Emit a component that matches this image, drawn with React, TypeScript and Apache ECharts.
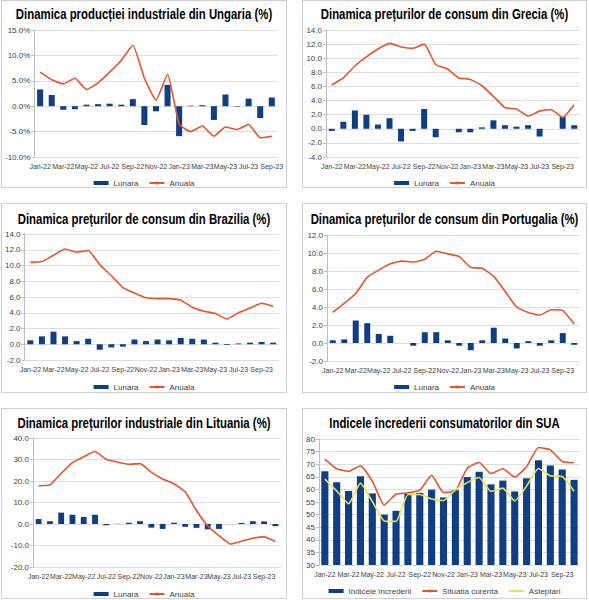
import { useEffect, useRef } from 'react';
import * as echarts from 'echarts';

const MONTHS = [
  'Jan-22', 'Feb-22', 'Mar-22', 'Apr-22', 'May-22', 'Jun-22', 'Jul-22', 'Aug-22', 'Sep-22', 'Oct-22', 'Nov-22', 'Dec-22',
  'Jan-23', 'Feb-23', 'Mar-23', 'Apr-23', 'May-23', 'Jun-23', 'Jul-23', 'Aug-23', 'Sep-23', 'Oct-23',
];
// Hungary stops at Sep-23
const MONTHS_HU = MONTHS.slice(0, 21);

const huMonthly = [3.3, 2.2, -0.7, -0.6, 0.3, 0.4, 0.5, 0.3, 1.4, -3.7, -1.0, 4.2, -5.9, 0.1, 0.2, -2.7, 2.3, -0.1, 1.5, -2.3, 1.7];
const huAnnual = [6.7, 5.2, 4.4, 5.5, 3.3, 4.6, 6.7, 9.0, 12.0, 5.5, 1.2, 6.3, -3.5, -5.0, -3.9, -5.9, -4.1, -4.6, -3.6, -6.2, -5.9];

const grMonthly = [-0.3, 1.0, 2.6, 2.0, 0.6, 1.5, -1.8, -0.3, 2.8, -1.2, 0, -0.5, -0.5, 0.2, 1.2, 0.5, 0.3, 0.5, -1.1, 0, 1.7, 0.5];
const grAnnual = [6.2, 7.2, 8.9, 10.2, 11.3, 12.1, 11.6, 11.4, 12.0, 9.1, 8.5, 7.2, 7.0, 6.1, 4.6, 3.0, 2.8, 1.8, 2.5, 2.7, 1.6, 3.4];

const brMonthly = [0.5, 1.0, 1.6, 1.0, 0.4, 0.7, -0.7, -0.4, -0.3, 0.6, 0.4, 0.6, 0.5, 0.8, 0.7, 0.6, 0.2, -0.1, 0.1, 0.2, 0.3, 0.2];
const brAnnual = [10.4, 10.5, 11.3, 12.1, 11.7, 11.9, 10.1, 8.7, 7.2, 6.5, 5.9, 5.8, 5.8, 5.6, 4.7, 4.2, 3.9, 3.2, 4.0, 4.6, 5.2, 4.8];

const ptMonthly = [0.3, 0.4, 2.5, 2.2, 1.0, 0.8, 0, -0.3, 1.2, 1.2, 0.3, -0.3, -0.8, 0.3, 1.7, 0.5, -0.6, 0.2, -0.3, 0.3, 1.1, -0.2];
const ptAnnual = [3.4, 4.4, 5.5, 7.3, 8.1, 8.8, 9.1, 9.0, 9.3, 10.2, 9.9, 9.6, 8.4, 8.3, 7.4, 5.7, 4.0, 3.4, 3.1, 3.7, 3.6, 2.1];

const ltMonthly = [2.3, 1.3, 5.3, 4.3, 3.3, 4.3, -0.6, 0.1, 0.6, 1.3, -1.7, -2.3, 0.6, -1.3, -1.8, -2.5, -2.3, 0, 0.5, 1.3, 1.2, -1.0];
const ltAnnual = [17.8, 18.2, 23.5, 28.5, 31.3, 33.7, 30.1, 28.8, 27.8, 28.1, 24.0, 20.9, 18.7, 15.0, 6.3, -0.9, -5.4, -9.3, -8.0, -6.6, -6.0, -8.2];

const usSentiment = [67.2, 62.8, 59.4, 65.2, 58.4, 50.0, 51.5, 58.2, 58.6, 59.9, 56.8, 59.7, 64.9, 67.0, 62.0, 63.5, 59.2, 64.4, 71.6, 69.5, 67.9, 63.8];
const usCurrent = [72.0, 68.2, 67.2, 69.4, 63.3, 53.8, 58.1, 58.6, 59.7, 65.6, 58.8, 59.4, 68.4, 70.7, 66.3, 68.2, 64.9, 69.0, 76.6, 75.7, 71.1, 70.6];
const usExpect = [64.1, 59.4, 54.3, 62.5, 55.2, 47.5, 47.3, 58.0, 58.0, 56.2, 55.6, 59.9, 62.7, 64.7, 59.2, 60.5, 55.4, 61.3, 68.3, 65.4, 65.1, 59.3];

const BLUE = '#0f3f82';
const RED = '#e0572e';
const YELLOW = '#e6e25a';
const GRID = '#dedede';
const TXT = '#404040';
const FONT = 'Liberation Sans';

interface Box { left: number; top: number; width: number; height: number }

interface Cfg {
  title: string;
  titleY: number;
  legendTop: number;
  grid: { left: number; right: number; top: number; bottom: number };
  categories: string[];
  min: number;
  max: number;
  interval: number;
  fmt: (v: number) => string;
  barWidth: string;
  lines: { name: string; data: number[]; color: string }[];
  bar: { name: string; data: number[] };
}

function buildOption(c: Cfg, width: number) {
  const n = c.categories.length;
  return {
    animation: false,
    // condensed heavy title: bold sans squeezed horizontally
    graphic: [
      {
        type: 'text',
        x: width / 2,
        y: c.titleY,
        scaleX: 0.76,
        style: {
          text: c.title,
          font: 'bold 15px "Liberation Sans"',
          fill: '#000',
          align: 'center',
          verticalAlign: 'top',
          textAlign: 'center',
          textVerticalAlign: 'top',
        },
      },
    ],
    grid: c.grid,
    legend: {
      top: c.legendTop,
      left: 'center',
      padding: 0,
      itemGap: 10,
      itemWidth: 15,
      itemHeight: 4,
      textStyle: { fontFamily: FONT, fontSize: 8, color: TXT },
      data: [
        { name: c.bar.name, icon: 'rect' },
        ...c.lines.map(l => ({ name: l.name })),
      ],
    },
    xAxis: {
      type: 'category',
      data: c.categories,
      axisLine: { show: false, onZero: false },
      axisTick: { show: false },
      axisLabel: {
        interval: 1,
        showMinLabel: true,
        showMaxLabel: true,
        // an even count forces the last month in as max label: keep it blank
        formatter: (v: string, i: number) => (n % 2 === 0 && i === n - 1 ? '' : v),
        fontFamily: FONT,
        fontSize: 7,
        color: TXT,
        margin: 6,
      },
    },
    yAxis: {
      type: 'value',
      min: c.min,
      max: c.max,
      interval: c.interval,
      axisLine: { show: true, lineStyle: { color: '#bdbdbd', width: 1 } },
      axisTick: { show: true, length: 3, lineStyle: { color: '#bdbdbd' } },
      splitLine: { lineStyle: { color: GRID, width: 1 } },
      axisLabel: { fontFamily: FONT, fontSize: 8, color: TXT, margin: 4, formatter: c.fmt },
    },
    series: [
      {
        name: c.bar.name,
        type: 'bar',
        data: c.bar.data,
        barWidth: c.barWidth,
        itemStyle: { color: BLUE },
      },
      ...c.lines.map(l => ({
        name: l.name,
        type: 'line',
        data: l.data,
        symbol: 'none',
        smooth: 0.15,
        lineStyle: { color: l.color, width: 1.6 },
        itemStyle: { color: l.color },
      })),
    ],
  };
}

function Panel({ box, cfg }: { box: Box; cfg: Cfg }) {
  const ref = useRef<HTMLDivElement | null>(null);

  useEffect(() => {
    if (!ref.current) return;
    const chart = echarts.init(ref.current, null, { renderer: 'svg' });
    chart.setOption(buildOption(cfg, box.width - 2));
    return () => chart.dispose();
  }, [cfg, box]);

  return (
    <div
      style={{
        position: 'absolute',
        left: box.left,
        top: box.top,
        width: box.width,
        height: box.height,
        border: '1px solid #cfcfcf',
        boxSizing: 'border-box',
        background: '#fff',
      }}
    >
      <div ref={ref} style={{ width: box.width - 2, height: box.height - 2 }} />
    </div>
  );
}

const pct = (v: number) => v.toFixed(1) + '%';
const one = (v: number) => v.toFixed(1);
const int = (v: number) => String(v);

const PANELS: { box: Box; cfg: Cfg }[] = [
  {
    box: { left: 1, top: 0, width: 286, height: 188 },
    cfg: {
      title: 'Dinamica producției industriale din Ungaria (%)',
      titleY: 5, legendTop: 178,
      grid: { left: 31, right: 6, top: 29, bottom: 30 },
      categories: MONTHS_HU, min: -10, max: 15, interval: 5, fmt: pct, barWidth: '52%',
      bar: { name: 'Lunara', data: huMonthly },
      lines: [{ name: 'Anuala', data: huAnnual, color: RED }],
    },
  },
  {
    box: { left: 302, top: 0, width: 285, height: 188 },
    cfg: {
      title: 'Dinamica prețurilor de consum din Grecia (%)',
      titleY: 5, legendTop: 178,
      grid: { left: 23, right: 6, top: 29, bottom: 30 },
      categories: MONTHS, min: -4, max: 14, interval: 2, fmt: one, barWidth: '52%',
      bar: { name: 'Lunara', data: grMonthly },
      lines: [{ name: 'Anuala', data: grAnnual, color: RED }],
    },
  },
  {
    box: { left: 1, top: 203, width: 286, height: 190 },
    cfg: {
      title: 'Dinamica prețurilor de consum din Brazilia (%)',
      titleY: 7, legendTop: 179,
      grid: { left: 22, right: 7, top: 30, bottom: 32 },
      categories: MONTHS, min: -2, max: 14, interval: 2, fmt: one, barWidth: '52%',
      bar: { name: 'Lunara', data: brMonthly },
      lines: [{ name: 'Anuala', data: brAnnual, color: RED }],
    },
  },
  {
    box: { left: 302, top: 203, width: 285, height: 190 },
    cfg: {
      title: 'Dinamica prețurilor de consum din Portugalia (%)',
      titleY: 7, legendTop: 179,
      grid: { left: 24, right: 6, top: 31, bottom: 31 },
      categories: MONTHS, min: -2, max: 12, interval: 2, fmt: one, barWidth: '52%',
      bar: { name: 'Lunara', data: ptMonthly },
      lines: [{ name: 'Anuala', data: ptAnnual, color: RED }],
    },
  },
  {
    box: { left: 1, top: 408, width: 286, height: 191 },
    cfg: {
      title: 'Dinamica prețurilor industriale din Lituania (%)',
      titleY: 6, legendTop: 181,
      grid: { left: 31, right: 5, top: 29, bottom: 31 },
      categories: MONTHS, min: -20, max: 40, interval: 10, fmt: one, barWidth: '52%',
      bar: { name: 'Lunara', data: ltMonthly },
      lines: [{ name: 'Anuala', data: ltAnnual, color: RED }],
    },
  },
  {
    box: { left: 302, top: 408, width: 285, height: 191 },
    cfg: {
      title: 'Indicele încrederii consumatorilor din SUA',
      titleY: 6, legendTop: 178,
      grid: { left: 15, right: 6, top: 30, bottom: 33 },
      categories: MONTHS, min: 30, max: 80, interval: 5, fmt: int, barWidth: '60%',
      bar: { name: 'Indicele încrederii', data: usSentiment },
      lines: [
        { name: 'Situatia curenta', data: usCurrent, color: RED },
        { name: 'Asteptari', data: usExpect, color: YELLOW },
      ],
    },
  },
];

export default function App() {
  return (
    <div style={{ position: 'absolute', left: 0, top: 0, width: 589, height: 600, background: '#fff' }}>
      {PANELS.map((p, i) => (
        <Panel key={i} box={p.box} cfg={p.cfg} />
      ))}
    </div>
  );
}
